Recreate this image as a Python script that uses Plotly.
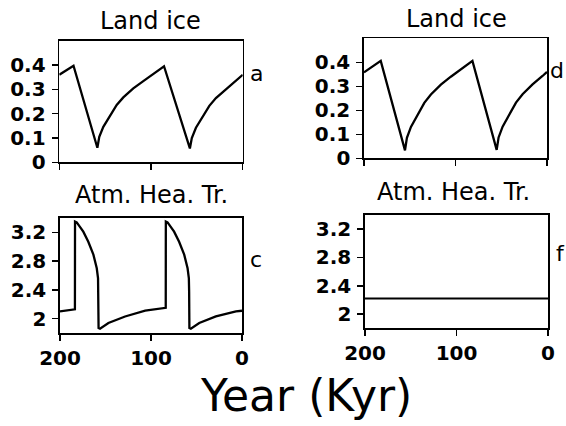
import plotly.graph_objects as go

# ---- data ----
years_a = [200, 184.5, 158.5, 156.4, 152.0, 144.7, 137.4, 130.2, 119.3, 108.4, 97.5, 85.8,
           57.6, 55.5, 51.0, 43.7, 36.4, 29.2, 18.3, 7.4, 0]
ice_a = [0.36, 0.397, 0.06, 0.105, 0.146, 0.194, 0.236, 0.267, 0.304, 0.334, 0.362, 0.395,
         0.057, 0.10, 0.142, 0.19, 0.232, 0.264, 0.30, 0.332, 0.36]

years_d = [200, 181.7, 155.2, 153.1, 148.7, 141.4, 134.1, 126.9, 116.0, 105.1, 94.2, 81.5,
           55.0, 52.9, 48.5, 41.2, 33.9, 26.7, 15.8, 4.9, 0]
ice_d = [0.358, 0.406, 0.033, 0.085, 0.131, 0.184, 0.231, 0.266, 0.307, 0.34, 0.371, 0.406,
         0.035, 0.087, 0.132, 0.185, 0.232, 0.267, 0.308, 0.343, 0.36]

years_c = [200, 183.6, 183.5, 181.6, 174.4, 168.9, 163.3, 159.6, 158.2, 157.9, 157.6,
           156.0, 146.8, 128.5, 106.4, 83.8, 83.7, 81.8, 74.6, 69.1, 63.5, 59.8, 58.4,
           58.1, 57.8, 56.2, 47.0, 28.7, 6.6, 0]
aht_c = [2.10, 2.13, 3.35, 3.34, 3.21, 3.07, 2.89, 2.70, 2.56, 2.38, 1.87,
         1.86, 1.94, 2.03, 2.11, 2.15, 3.35, 3.34, 3.21, 3.07, 2.89, 2.70, 2.56,
         2.38, 1.87, 1.86, 1.94, 2.03, 2.10, 2.11]

years_f = [200, 150, 100, 50, 0]
aht_f = [2.22, 2.22, 2.22, 2.22, 2.22]

x_ticks = [200, 100, 0]
ice_ticks = [0, 0.1, 0.2, 0.3, 0.4]
aht_ticks = [2, 2.4, 2.8, 3.2]

W, H = 566, 426


def dx(a, b):
    return [a / W, b / W]


def dy(top, bottom):
    return [1 - bottom / H, 1 - top / H]


tickfont = dict(family="DejaVu Sans", size=20, color="black", weight="bold")
xtickfont = dict(family="DejaVu Sans", size=20, color="black", weight="bold")
line = dict(color="black", width=2.3)

fig = go.Figure()
fig.add_trace(go.Scatter(x=years_a, y=ice_a, mode="lines", line=line, xaxis="x", yaxis="y"))
fig.add_trace(go.Scatter(x=years_d, y=ice_d, mode="lines", line=line, xaxis="x2", yaxis="y2"))
fig.add_trace(go.Scatter(x=years_c, y=aht_c, mode="lines", line=line, xaxis="x3", yaxis="y3"))
fig.add_trace(go.Scatter(x=years_f, y=aht_f, mode="lines", line=dict(color="black", width=2),
                         xaxis="x4", yaxis="y4"))

common_x = dict(range=[200, 0], tickvals=x_ticks, ticks="outside", ticklen=6, tickwidth=1.5,
                tickcolor="black", showline=True, linecolor="black", linewidth=1.7,
                mirror=True, showgrid=False, zeroline=False, automargin=False)
common_y = dict(ticks="outside", ticklen=6, tickwidth=1.5, tickcolor="black", showline=True,
                linecolor="black", linewidth=1.7, mirror=True, showgrid=False, zeroline=False,
                tickfont=tickfont, ticklabelstandoff=2, automargin=False)

fig.update_layout(
    width=W, height=H, margin=dict(l=0, r=0, t=0, b=0, autoexpand=False),
    paper_bgcolor="white", plot_bgcolor="white", showlegend=False,
    xaxis=dict(common_x, domain=dx(59.3, 242.7), anchor="y", showticklabels=False),
    yaxis=dict(common_y, domain=dy(40.7, 162.3), anchor="x", range=[0, 0.5], tickvals=ice_ticks),
    xaxis2=dict(common_x, domain=dx(364, 547), anchor="y2", showticklabels=False),
    yaxis2=dict(common_y, domain=dy(38.3, 158.3), anchor="x2", range=[0, 0.5], tickvals=ice_ticks),
    xaxis3=dict(common_x, domain=dx(60, 242), anchor="y3", tickfont=xtickfont),
    yaxis3=dict(common_y, domain=dy(218, 333), anchor="x3", range=[1.8, 3.4], tickvals=aht_ticks),
    xaxis4=dict(common_x, domain=dx(365, 548), anchor="y4", tickfont=xtickfont),
    yaxis4=dict(common_y, domain=dy(215, 328.3), anchor="x4", range=[1.8, 3.4], tickvals=aht_ticks),
)

tfont = dict(family="DejaVu Sans", size=24, color="black")


def ann(text, x, y, size=24, xanchor="center"):
    fig.add_annotation(text=text, x=x / W, y=1 - y / H, xref="paper", yref="paper",
                       showarrow=False, xanchor=xanchor, yanchor="middle",
                       font=dict(tfont, size=size))


ann("Land ice", 150, 21)
ann("Land ice", 456, 19)
ann("Atm. Hea. Tr.", 151, 195)
ann("Atm. Hea. Tr.", 453, 192)
ann("a", 256, 73, size=22)
ann("d", 557, 71, size=22)
ann("c", 256, 259, size=22)
ann("f", 560, 254, size=22)
ann("Year (Kyr)", 306, 395, size=44)

fig.write_html("out.html", config={"displayModeBar": False, "staticPlot": True},
               post_script="document.body.style.margin='0';document.body.style.overflow='hidden';")
